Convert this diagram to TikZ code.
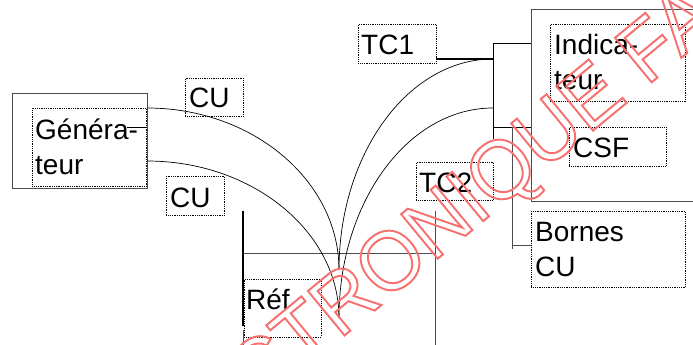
\documentclass[tikz,border=0pt]{standalone}
\usepackage{fontspec}
\setmainfont{Liberation Sans}
\usetikzlibrary{positioning}
\tikzset{
  dotbox/.style={draw,densely dotted,line width=0.8pt,anchor=north west,inner sep=0pt},
  word/.style={anchor=base west,inner sep=0pt,font=\fontsize{28}{35}\selectfont},
  twolines/.style={anchor=north west,inner sep=0pt,align=left,font=\fontsize{28}{35}\selectfont},
  wire/.style={draw=black,line width=0.7pt},
  frame/.style={draw=black!70,line width=0.9pt}
}
\newcommand{\outlined}[1]{\special{pdf:code q 1 Tr 0.97 0.44 0.44 RG 1.9 w}#1\special{pdf:code Q}}
\begin{document}
\begin{tikzpicture}[x=1pt,y=-1pt]
        \useasboundingbox (0,0) rectangle (693,345);
        % frames
        \draw[frame] (12.5,93) rectangle (147,188.5);
        \draw[frame] (693,9) -- (531,9) -- (531,201.5) -- (693,201.5);
        \draw[frame] (243,253) -- (435,253);
        \draw[black,line width=1.2pt] (243,211) -- (243,326);
        \draw[frame] (243,330) -- (243,345);
        \draw[frame] (435,211) -- (435,345);
        % boxes
        \node[dotbox,minimum width=114pt,minimum height=78pt] (gen) at (32,108) {};
        \node[dotbox,minimum width=58pt,minimum height=38pt] (cua) at (185,78) {};
        \node[dotbox,minimum width=58pt,minimum height=39pt] (cub) at (166,176) {};
        \node[dotbox,minimum width=77.5pt,minimum height=39pt] (tca) at (358,24) {};
        \node[dotbox,minimum width=77pt,minimum height=38pt] (tcb) at (416,162) {};
        \node[dotbox,minimum width=135pt,minimum height=77pt] (ind) at (550,24) {};
        \node[dotbox,minimum width=96.5pt,minimum height=39pt] (csf) at (569,127) {};
        \node[dotbox,minimum width=154pt,minimum height=76pt] (bor) at (531,211) {};
        \node[dotbox,minimum width=76.5pt,minimum height=57.5pt] (ref) at (244,279) {};
        % labels
        \node[twolines] (gentxt) at (35,118.5) {Généra-\\teur};
        \node[word] (cuatxt) at (189,107) {CU};
        \node[word] (cubtxt) at (170,207) {CU};
        \node[word] (tcatxt) at (361,54.5) {TC1};
        \node[word] (tcbtxt) at (419,192) {TC2};
        \node[twolines] (indtxt) at (554,34) {Indica-\\teur};
        \node[word] (csftxt) at (573,157) {CSF};
        \node[twolines] (bortxt) at (535,222) {Bornes\\CU};
        \node[word] (reftxt) at (246,309) {Réf};
        % connectors
        \coordinate (gena) at (147,108);
        \coordinate (genb) at (147,161);
        \coordinate (gs) at (147,127);
        \coordinate (refa) at (339,270);
        \coordinate (refb) at (339,318);
        \coordinate (tip) at (493,59);
        \coordinate (tiq) at (493,108);
        \draw[wire] (gena) .. controls (253,108) and (339,181) .. (refa);
        \draw[wire] (genb) .. controls (253,161) and (339,232) .. (refb);
        \draw[wire] (tip) .. controls (408,59) and (339,154) .. (refa);
        \draw[wire] (tiq) .. controls (408,108) and (339,202) .. (refb);
        \draw[wire] (gs) -- ++(-20,0);
        \draw[wire,line width=1.1pt] (tca.east |- tip) -- (tip);
        \draw[wire] (493,139) -- (493,43) -- (531,43);
        \draw[wire] (493,127) -- (531,127);
        \draw[frame] (512,127) -- (512,249);
        \draw[frame] (512,245) -- (531,245);
        % stamp
        \node[rotate=39.5,yscale=1.04,inner sep=0pt,anchor=base west,font=\fontsize{80.5}{81}\selectfont] (stamp) at (256.5,408) {\outlined{CTRONIQUE FA}};
\end{tikzpicture}
\end{document}
